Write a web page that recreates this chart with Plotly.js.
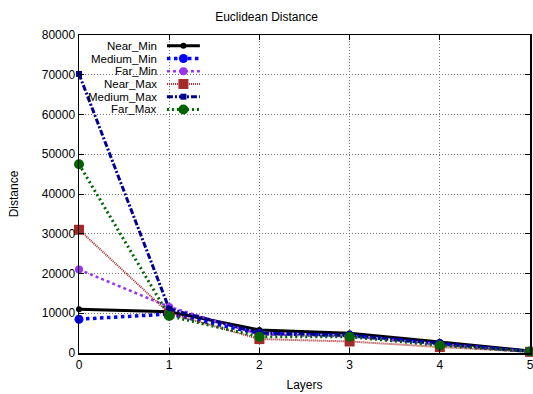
<!DOCTYPE html>
<html><head><meta charset="utf-8">
<script src="https://cdn.plot.ly/plotly-3.0.1.min.js"></script>
<style>html,body{margin:0;padding:0;background:#fff}#c{width:533px;height:394px}</style>
</head><body><div id="c"></div>
<script>
const layers = [0, 1, 2, 3, 4, 5];
const nearMin   = [11000, 10400, 5800, 5000, 2800, 500];
const mediumMin = [8500, 9800, 4900, 4400, 2300, 400];
const farMin    = [21000, 11600, 4700, 4200, 2200, 400];
const nearMax   = [31000, 10000, 3500, 2900, 1500, 300];
const mediumMax = [70200, 11100, 5000, 4500, 2400, 400];
const farMax    = [47500, 9300, 4100, 4100, 1900, 400];
const yTicks = [0, 10000, 20000, 30000, 40000, 50000, 60000, 70000, 80000];
const names = ['Near_Min','Medium_Min','Far_Min','Near_Max','Medium_Max','Far_Max'];
const series = [nearMin, mediumMin, farMin, nearMax, mediumMax, farMax];
const styles = [
  {color:'#000000', width:3, dash:'solid', sym:'circle', size:6},
  {color:'#0000ff', width:3.5, dash:'dot', sym:'circle', size:9},
  {color:'#9933ee', width:2.5, dash:'dot', sym:'circle', size:8},
  {color:'#a52a2a', width:2, dash:'1px,1px', sym:'square', size:10},
  {color:'#000090', width:3, dash:'6px,2px,2px,2px', sym:'square', size:6},
  {color:'#006400', width:3, dash:'2px,3px', sym:'circle', size:10}
];
const traces = series.map((s,i)=>({
  x: layers, y: s, name: names[i], type:'scatter', mode:'lines+markers',
  line:{color:styles[i].color, width:styles[i].width, dash:styles[i].dash},
  marker:{color:styles[i].color, symbol:styles[i].sym, size:styles[i].size},
  showlegend:false, cliponaxis:false
}));
const annotations = [], shapes = [];
names.forEach((n,i)=>{
  const y = 0.966 - i*0.04;
  annotations.push({xref:'paper', yref:'paper', x:0.175, y:y, xanchor:'right', yanchor:'middle',
    text:n, showarrow:false, borderpad:0, font:{family:'Liberation Sans, Arial', size:11.5, color:'#000'}});
  shapes.push({type:'line', xref:'paper', yref:'paper', x0:0.195, x1:0.268, y0:y, y1:y,
    line:{color:styles[i].color, width:styles[i].width, dash:styles[i].dash}});
  const sz = styles[i].size/2;
  shapes.push({type: styles[i].sym==='circle'?'circle':'rect', xref:'paper', yref:'paper',
    xsizemode:'pixel', ysizemode:'pixel', xanchor:0.2315, yanchor:y,
    x0:-sz, x1:sz, y0:-sz, y1:sz, fillcolor:styles[i].color, line:{width:0}});
});
const axfont = {family:'Liberation Sans, Arial', size:12, color:'#000'};
const layout = {
  width:533, height:394,
  margin:{l:79, r:3, t:35, b:41},
  paper_bgcolor:'#fff', plot_bgcolor:'#fff',
  font: axfont,
  title:{text:'Euclidean Distance', font:{family:'Liberation Sans, Arial', size:12}, x:0.5, xanchor:'center', y:0.957, yanchor:'middle'},
  xaxis:{range:[0,5], tickmode:'array', tickvals:layers, ticktext:layers.map(String), ticklabeloverflow:'allow',
    showline:true, mirror:'ticks', linecolor:'#000', linewidth:1.5,
    ticks:'inside', ticklen:5, tickcolor:'#000', showgrid:true, gridcolor:'#777', griddash:'1px,2px', gridwidth:1,
    zeroline:false, tickfont:axfont, title:{text:'Layers', font:axfont, standoff:9}},
  yaxis:{range:[0,80000], tickmode:'array', tickvals:yTicks, ticktext:yTicks.map(String),
    showline:true, mirror:'ticks', linecolor:'#000', linewidth:1.5,
    ticks:'inside', ticklen:5, tickcolor:'#000', showgrid:true, gridcolor:'#777', griddash:'1px,2px', gridwidth:1,
    zeroline:false, tickfont:axfont, title:{text:'Distance', font:axfont, standoff:20}},
  annotations: annotations, shapes: shapes
};
Plotly.newPlot('c', traces, layout, {staticPlot:true, displayModeBar:false});
</script></body></html>
